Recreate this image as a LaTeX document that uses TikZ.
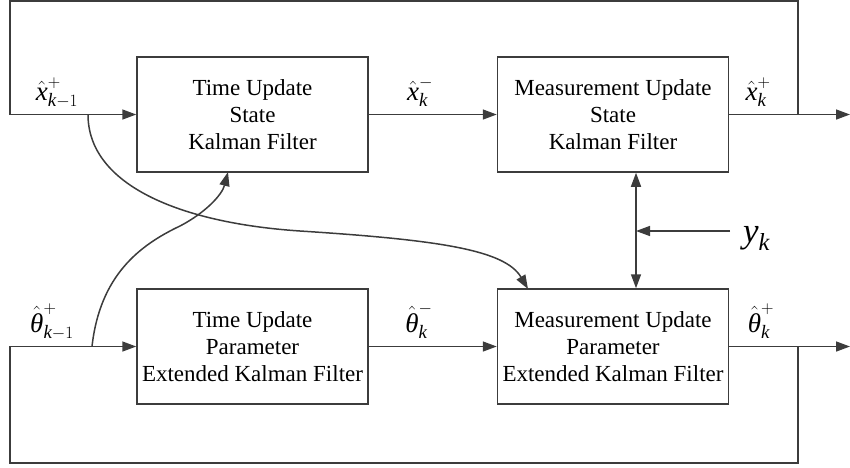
\documentclass[tikz,border=0pt]{standalone}
\usepackage{amstext}
\usepackage{fontspec}
\setmainfont{Liberation Serif}
\usetikzlibrary{arrows.meta}
\definecolor{ink}{HTML}{3C3C3C}

\tikzset{
  block/.style={draw=ink, line width=1.5pt, minimum width=231pt, minimum height=115pt,
                align=center, inner sep=0pt, font=\fontsize{23}{27}\selectfont},
  wire/.style={draw=ink, line width=1.5pt},
  arr/.style={wire, -{Triangle[length=14pt,width=10pt]}},
  dblarr/.style={wire, {Triangle[length=14pt,width=10pt]}-{Triangle[length=14pt,width=10pt]}},
  lbl/.style={inner sep=0pt, anchor=base, font=\fontsize{27}{31}\selectfont},
}

\begin{document}
\begin{tikzpicture}[x=1pt,y=-1pt]
\useasboundingbox (0,0) rectangle (850,467);

% filter blocks
\node[block] (tus) at (252.5,114.5) {Time Update\\State\\Kalman Filter};
\node[block] (mus) at (613,114.5) {Measurement Update\\State\\Kalman Filter};
\node[block] (tup) at (252.5,346.5) {Time Update\\Parameter\\Extended Kalman Filter};
\node[block] (mup) at (613,346.5) {Measurement Update\\Parameter\\Extended Kalman Filter};

% branch points and corners
\coordinate (xo) at (798,114.5);
\coordinate (xend) at (850,114.5);
\coordinate (topL) at (10,1);
\coordinate (po) at (798,346.5);
\coordinate (pend) at (850,346.5);
\coordinate (botL) at (10,463);
\coordinate (xb) at (88,114.5);
\coordinate (pb) at (92,346.5);
\coordinate (yj) at (636,231);
\coordinate (ys) at (730,231);
\coordinate (xin) at (528,289);
\coordinate (pin) at (228,172);

% state path
\draw[arr] (tus.east) -- (mus.west);
\draw[arr] (mus.east) -- (xend);
\draw[arr] (xo) |- (topL) |- (tus.west);

% parameter path
\draw[arr] (tup.east) -- (mup.west);
\draw[arr] (mup.east) -- (pend);
\draw[arr] (po) |- (botL) |- (tup.west);

% measurement input
\draw[dblarr] (mus.south -| yj) -- (mup.north -| yj);
\draw[arr] (ys) -- (yj);

% cross couplings
\draw[arr] (xb) .. controls (88,185) and (180,223) .. (300,231)
                .. controls (440,240) and (505,250) .. (xin);
\draw[arr] (pb) .. controls (100,275) and (140,245) .. (180,226)
                .. controls (205,213) and (222,195) .. (pin);

% signal labels
\node[lbl] (l1) at (57,100) {$\hat{\textit{x}}^{+}_{\textit{k}-1}$};
\node[lbl] (l2) at (420,100) {$\hat{\textit{x}}^{-}_{\textit{k}}$};
\node[lbl] (l3) at (758,100) {$\hat{\textit{x}}^{+}_{\textit{k}}$};
\node[lbl] (l4) at (52,332) {$\hat{\textit{θ}}^{+}_{\textit{k}-1}$};
\node[lbl] (l5) at (419,332) {$\hat{\textit{θ}}^{-}_{\textit{k}}$};
\node[lbl] (l6) at (761,332) {$\hat{\textit{θ}}^{+}_{\textit{k}}$};
\node[inner sep=0pt, anchor=base west, font=\fontsize{35}{41}\selectfont] (l7) at (743,242) {$\textit{y}_{\textit{k}}$};
\end{tikzpicture}
\end{document}
